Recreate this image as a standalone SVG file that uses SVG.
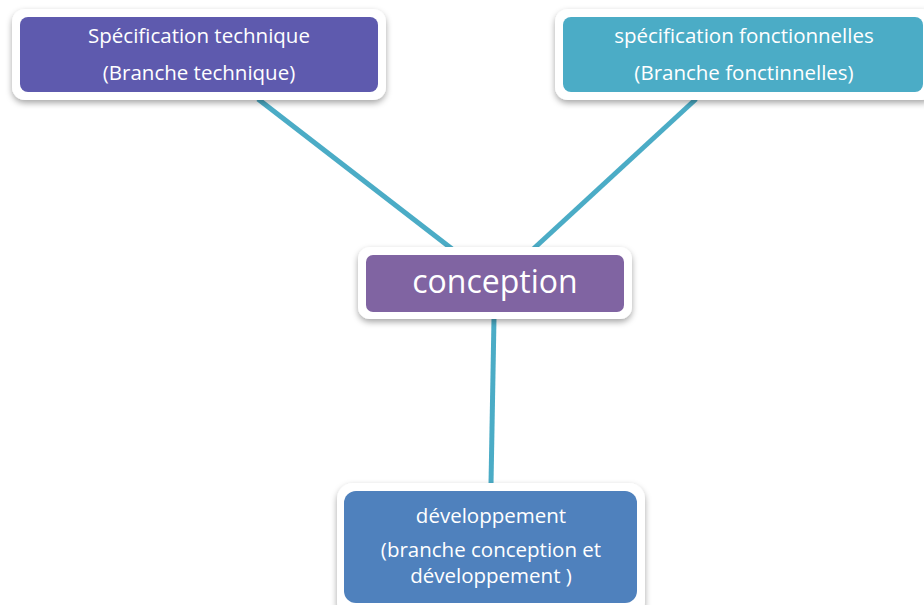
<svg xmlns="http://www.w3.org/2000/svg" width="924" height="605" viewBox="0 0 924 605">
  <defs>
    <filter id="shadow" x="-10%" y="-20%" width="120%" height="150%">
      <feDropShadow dx="0" dy="3" stdDeviation="3" flood-color="#000" flood-opacity="0.35"/>
    </filter>
  </defs>
  <style>
    .frame { fill: #ffffff; filter: url(#shadow); }
    .label { fill: #ffffff; font-family: "Open Sans", "Liberation Sans", sans-serif; font-size: 20.5px; text-anchor: middle; }
    .big { font-size: 32px; }
    .link { stroke: #4BACC6; stroke-width: 5; fill: none; }
  </style>

  <g id="connectors">
    <line class="link" x1="258" y1="99" x2="456" y2="252"/>
    <line class="link" x1="696" y1="99" x2="530" y2="252"/>
    <line class="link" x1="494" y1="318" x2="491" y2="484"/>
  </g>

  <g id="spec-technique">
    <rect class="frame" x="12" y="9" width="374" height="91" rx="13"/>
    <rect x="20" y="17" width="358" height="75" rx="8" fill="#5E5AAE"/>
    <text class="label" x="199" y="43">Spécification technique</text>
    <text class="label" x="199" y="80">(Branche technique)</text>
  </g>

  <g id="spec-fonctionnelles">
    <rect class="frame" x="555" y="9" width="380" height="91" rx="13"/>
    <rect x="563" y="17" width="360" height="75" rx="8" fill="#4BACC6"/>
    <text class="label" x="744" y="43">spécification fonctionnelles</text>
    <text class="label" x="744" y="80">(Branche fonctinnelles)</text>
  </g>

  <g id="conception">
    <rect class="frame" x="358" y="247" width="274" height="72" rx="12"/>
    <rect x="366" y="255" width="258" height="57" rx="7" fill="#8064A2"/>
    <text class="label big" x="495" y="293">conception</text>
  </g>

  <g id="developpement">
    <rect class="frame" x="337" y="483" width="308" height="135" rx="16"/>
    <rect x="344" y="491" width="293" height="112" rx="12" fill="#4F81BD"/>
    <text class="label" x="491" y="523">développement</text>
    <text class="label" x="491" y="557">(branche conception et</text>
    <text class="label" x="491" y="583">développement )</text>
  </g>
</svg>
